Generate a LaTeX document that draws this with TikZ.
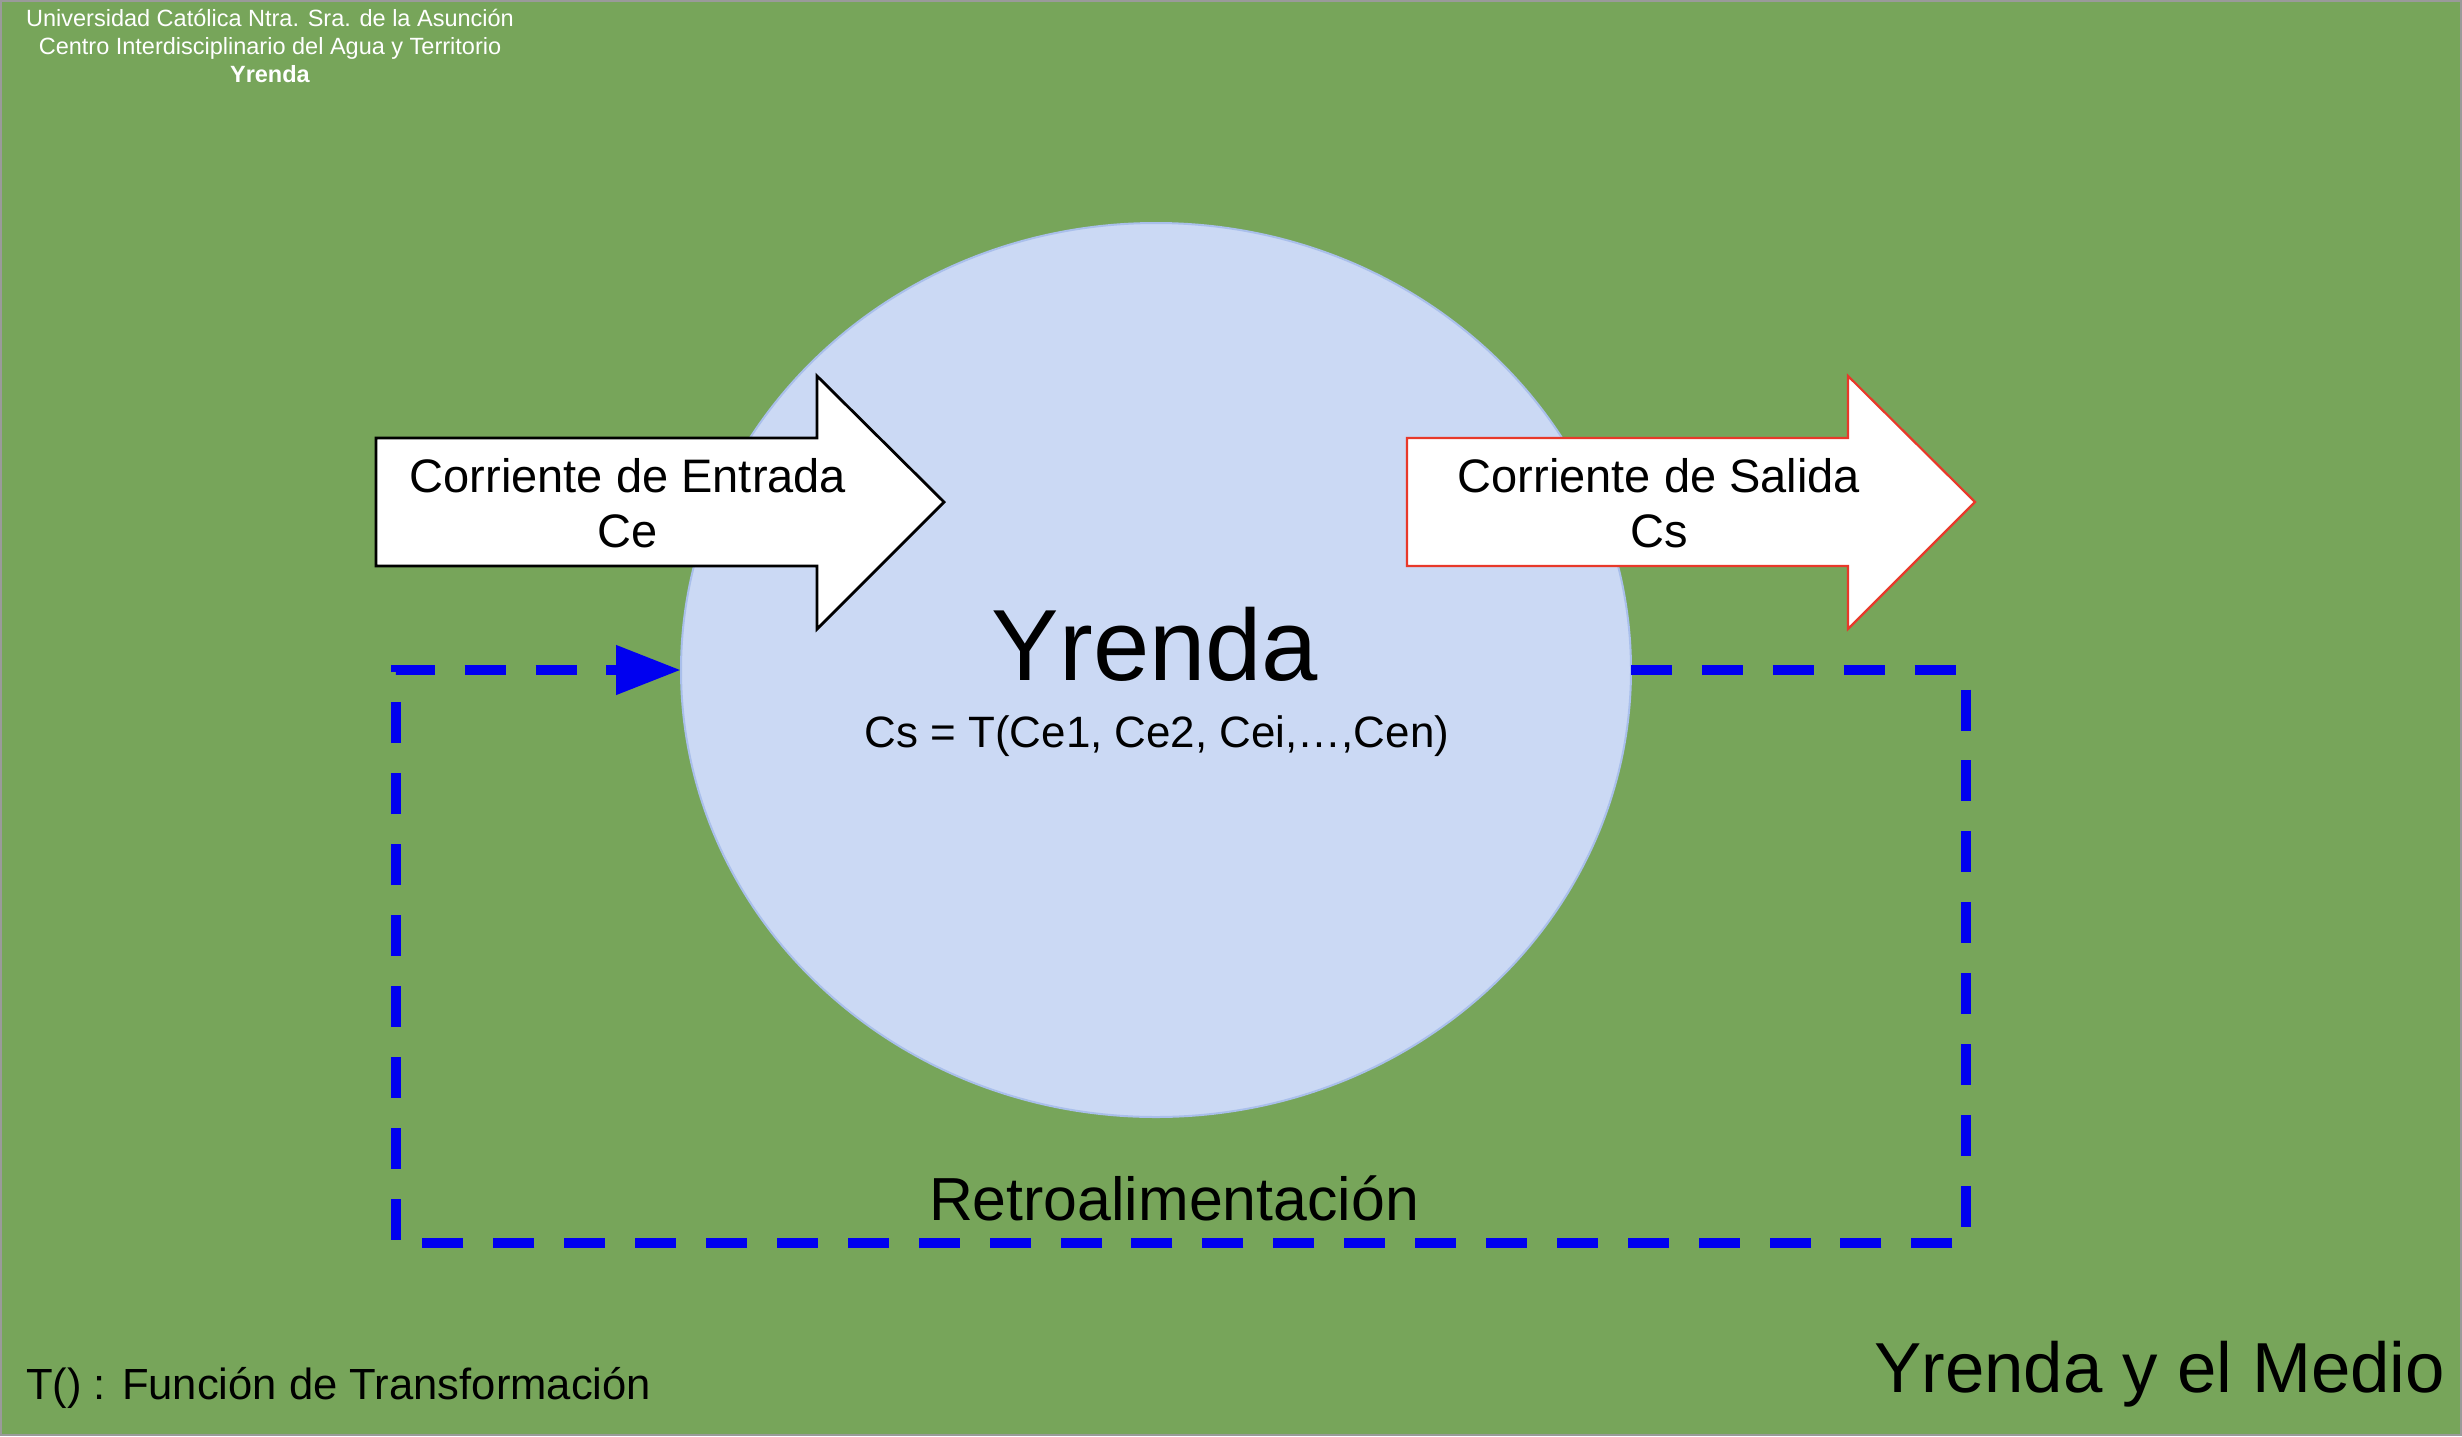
\documentclass[tikz,border=0pt]{standalone}
\usepackage{fontspec}
\setmainfont{Liberation Sans}
\usetikzlibrary{shapes.geometric,arrows.meta}
\definecolor{bgGreen}{HTML}{77A55A}
\definecolor{frameGray}{HTML}{9A9A9A}
\definecolor{sysFill}{HTML}{CBD9F4}
\definecolor{sysLine}{HTML}{A9BFEB}
\definecolor{fbBlue}{HTML}{0000F0}
\definecolor{outRed}{HTML}{E8392A}
\newcommand{\fsz}[2]{\fontsize{#1pt}{#2pt}\selectfont}
\tikzset{
  x=0.5pt,y=-0.5pt,
  every node/.style={inner sep=0pt,outer sep=0pt},
  sysnode/.style={ellipse,draw=sysLine,fill=sysFill,line width=1pt,minimum width=475pt,minimum height=447pt},
  blockin/.style={draw=black,fill=white,line width=1.4pt,line join=miter},
  blockout/.style={draw=outRed,fill=white,line width=1.1pt,line join=miter},
  feedback/.style={draw=fbBlue,line width=5.4pt,dash pattern=on 20.5pt off 14.95pt,line join=miter,-{Triangle[length=32.5pt,width=23.5pt]}},
  lbl/.style={anchor=base,align=center,font=\fsz{23.5}{27.5}},
}
\begin{document}
\begin{tikzpicture}
\useasboundingbox (0,0) rectangle (2462,1436);
\fill[bgGreen] (0,0) rectangle (2462,1436);
\draw[frameGray,line width=1.2pt] (1,1) rectangle (2461,1435);
\node[sysnode] (sys) at (1156,670) {};
\coordinate (tr) at (1966,670);
\coordinate (br) at (1966,1243);
\coordinate (bl) at (396,1243);
\coordinate (tl) at (396,670);
\draw[feedback] (sys.east) -- (tr) -- (br) -- (bl) -- (tl) -- (sys.west);
\draw[blockin] (376,438) -- (817,438) -- (817,376) -- (944,502) -- (817,629) -- (817,566) -- (376,566) -- cycle;
\draw[blockout] (1407,438) -- (1848,438) -- (1848,376) -- (1975,502) -- (1848,629) -- (1848,566) -- (1407,566) -- cycle;
\node[lbl] (ein) at (628,547) {Corriente de Entrada\\Ce};
\node[lbl] (eout) at (1659,547) {Corriente de Salida\\Cs};
\node[anchor=base,font=\fsz{50.6}{58}] (title) at (1155,680) {Yrenda};
\node[anchor=base,font=\fsz{21.95}{26}] (formula) at (1157,747) {Cs = T(Ce1, Ce2, Cei,…,Cen)};
\node[anchor=base,font=\fsz{30.4}{36}] (retro) at (1174,1220) {Retroalimentación};
\node[anchor=base east,font=\fsz{35.4}{41}] (medio) at (2445,1392) {Yrenda y el Medio};
\node[anchor=base west,font=\fsz{21.8}{27}] (func) at (26,1399) {T() : Función de Transformación};
\node[anchor=base,align=center,text=white,font=\fsz{11.75}{14}] (head) at (270,82) {Universidad Católica Ntra. Sra. de la Asunción\\Centro Interdisciplinario del Agua y Territorio\\\textbf{Yrenda}};
\end{tikzpicture}
\end{document}
